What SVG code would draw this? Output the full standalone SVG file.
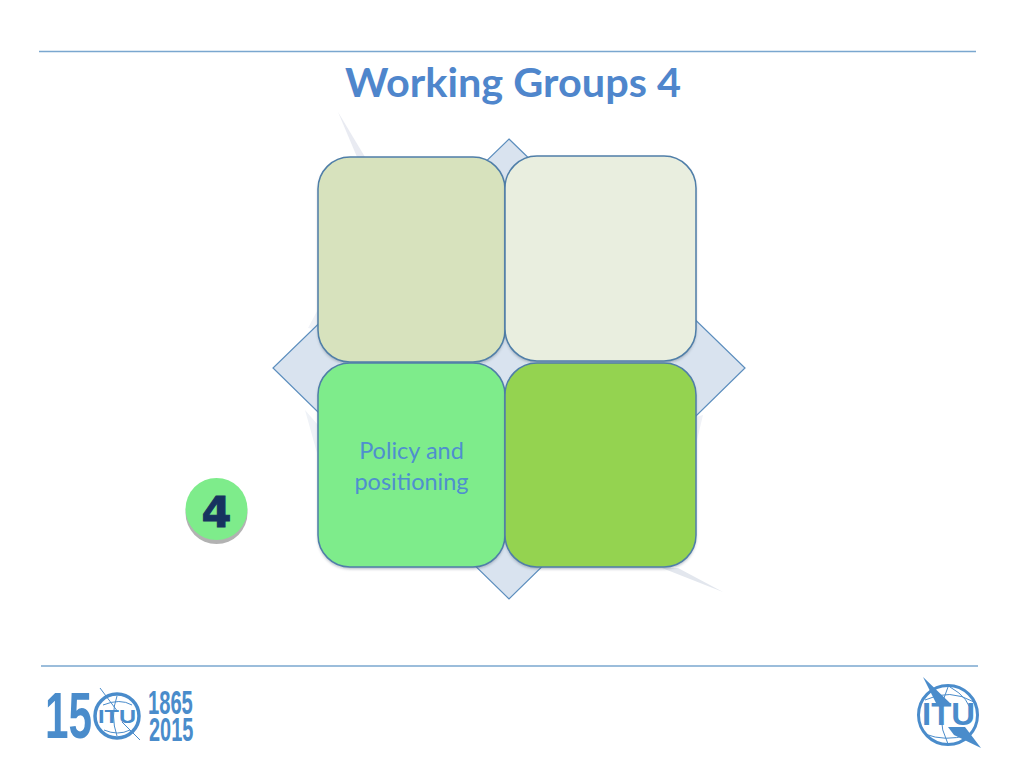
<svg xmlns="http://www.w3.org/2000/svg" width="1024" height="768" viewBox="0 0 1024 768">
<defs>
<filter id="soft" x="-10%" y="-10%" width="120%" height="120%"><feGaussianBlur stdDeviation="1.500"/></filter>
<style>
.rule{stroke:#7aa7cf;stroke-width:1.6;fill:none}
.card{stroke:#4f7ea8;stroke-width:1.5}
.shade{fill:#44546a;opacity:.4;filter:url(#soft)}
.logo{fill:#4a8ccb;font-family:"Liberation Sans",sans-serif;font-weight:700}
.ln{fill:none;stroke:#4a8ccb}
.label{font-family:Lato,"Liberation Sans",sans-serif;font-size:23.500px;fill:#4f8fcf;text-anchor:middle}
</style>
</defs>
<rect width="1024" height="768" fill="#fff"/>
<line class="rule" x1="39" y1="51.500" x2="976" y2="51.500"/>
<line class="rule" x1="41" y1="666" x2="978" y2="666"/>
<text id="title" x="345" y="97" font-family="Lato,'Liberation Sans',sans-serif" font-weight="700" font-size="41" fill="#4f86cc" textLength="336" lengthAdjust="spacingAndGlyphs">Working Groups 4</text>
<g id="background">
<path d="M338 112 L357 157 L365 157 Z" fill="#e9ebf2"/>
<path d="M323 300 L308 328 L318 330 Z" fill="#f1f3f8"/>
<path d="M305 410 L317 453 L318 425 Z" fill="#eff2f7"/>
<path d="M662 568 L723 592 L678 568 Z" fill="#e3e7ee"/>
<path d="M695 417 L703 415 L697 440 Z" fill="#f0f2f7"/>
<path id="diamond" d="M509 139 L745 368 L509 599 L273 368 Z" fill="#d9e3ef" stroke="#5b8dbd" stroke-width="1.200"/>
</g>
<g id="node-top-left">
<rect class="shade" x="318" y="159" width="187" height="205" rx="32"/>
<rect class="card" x="318" y="157" width="187" height="205" rx="32" fill="#d7e2bd"/>
</g>
<g id="node-top-right">
<rect class="shade" x="505" y="158" width="191" height="205" rx="32"/>
<rect class="card" x="505" y="156" width="191" height="205" rx="32" fill="#e9eedf"/>
</g>
<g id="node-bottom-left">
<rect class="shade" x="318" y="365" width="187" height="204" rx="32"/>
<rect class="card" x="318" y="363" width="187" height="204" rx="32" fill="#7eec8b"/>
<text class="label" x="411.500" y="459">Policy and</text>
<text class="label" x="411.500" y="489.500">positioning</text>
</g>
<g id="node-bottom-right">
<rect class="shade" x="505" y="365" width="191" height="204" rx="32"/>
<rect class="card" x="505" y="363" width="191" height="204" rx="32" fill="#94d350"/>
</g>
<g id="badge">
<circle cx="216.500" cy="513" r="31" fill="#b2b2b2"/>
<circle cx="216.500" cy="509" r="31" fill="#7eec8b"/>
<text x="216.500" y="527" text-anchor="middle" font-family="'DejaVu Sans',sans-serif" font-weight="700" font-size="43" fill="#17335f" stroke="#17335f" stroke-width="1">4</text>
</g>
<g id="logo-150">
<text class="logo" transform="translate(45 738) scale(0.66 1)" font-size="64">15</text>
<circle cx="117" cy="716" r="22" fill="#fff" stroke="#4a8ccb" stroke-width="3.500"/>
<path class="ln" stroke-width="1" d="M100 688 L118 712 M122 722 L140 740 M103 705 Q120 698 132 705 M104 730 Q118 736 130 730 M117 696 Q110 716 117 736"/>
<text class="logo" x="98" y="723" font-size="18" textLength="38" lengthAdjust="spacingAndGlyphs">ITU</text>
<text class="logo" transform="translate(148 714) scale(0.84 1.39)" font-size="24">1865</text>
<text class="logo" transform="translate(149 741) scale(0.83 1.39)" font-size="24">2015</text>
</g>
<g id="logo-itu">
<circle class="ln" cx="948" cy="715" r="29.500" stroke-width="3"/>
<path class="ln" stroke-width="1" d="M925 700 Q950 688 974 702 M925 734 Q945 742 968 735 M948 687 Q934 716 948 744 M950 687 Q970 698 972 716"/>
<path d="M923 677 L950 703 L936 703 Z M948 727 L965 727 L981 748 L954 735 Z" fill="#4a8ccb"/>
<text class="logo" x="922" y="725" font-size="31" textLength="53" lengthAdjust="spacingAndGlyphs">ITU</text>
</g>
</svg>
